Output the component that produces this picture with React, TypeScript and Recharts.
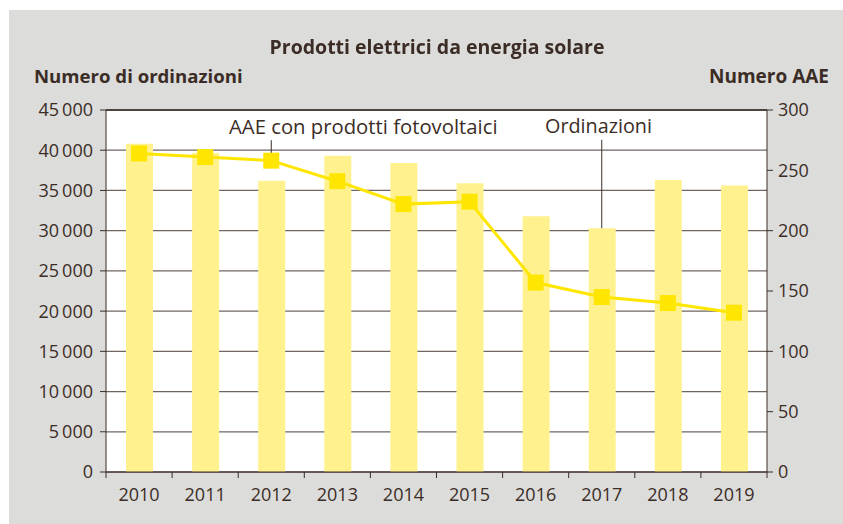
import React from "react";
import {
  Bar,
  CartesianGrid,
  ComposedChart,
  Line,
  ReferenceLine,
  XAxis,
  YAxis,
} from "recharts";

const years = ["2010", "2011", "2012", "2013", "2014", "2015", "2016", "2017", "2018", "2019"];
const ordinazioni = [40800, 39700, 36200, 39300, 38400, 35900, 31800, 30300, 36300, 35600];
const aaeFotovoltaici = [264, 261, 258, 241, 222, 224, 157, 145, 140, 132];

const leftTicks = [0, 5000, 10000, 15000, 20000, 25000, 30000, 35000, 40000, 45000];
const rightTicks = [0, 50, 100, 150, 200, 250, 300];

const data = years.map((year, i) => ({
  year,
  ordinazioni: ordinazioni[i],
  aae: aaeFotovoltaici[i],
}));

const INK = "#3b2d26";
const GRID = "#6f6660";
const FONT = "'Open Sans', sans-serif";

const W = 834;
const H = 514;
const margin = { top: 100, right: 16, bottom: 12, left: 37 };
const AXIS_W = 60;
const plotW = W - margin.left - margin.right - 2 * AXIS_W;
const step = plotW / years.length;

const fmt = (v: number) =>
  v >= 1000 ? `${Math.floor(v / 1000)}\u2009${String(v % 1000).padStart(3, "0")}` : String(v);

const XTick = (props: any) => {
  const { x, y, payload, index } = props;
  const base = y - 16;
  return (
    <g>
      <line x1={x - step / 2} x2={x - step / 2} y1={base} y2={base + 6} stroke={INK} />
      {index === years.length - 1 && (
        <line x1={x + step / 2} x2={x + step / 2} y1={base} y2={base + 6} stroke={INK} />
      )}
      <text x={x} y={y} dy="0.71em" textAnchor="middle" fill={INK} fontSize={18} fontFamily={FONT}>
        {payload.value}
      </text>
    </g>
  );
};

const SquareDot = (props: any) => {
  const { cx, cy } = props;
  if (cx == null || cy == null) return null;
  return <rect x={cx - 8} y={cy - 8} width={16} height={16} fill="#ffe600" />;
};

const label: React.CSSProperties = { position: "absolute", zIndex: 2, whiteSpace: "nowrap" };

export default function App() {
  return (
    <div
      style={{
        position: "fixed",
        left: 9,
        top: 10,
        width: W,
        height: H,
        background: "#dcdcdb",
        fontFamily: FONT,
        color: INK,
      }}
    >
      <ComposedChart width={W} height={H} data={data} margin={margin} barCategoryGap={0}>
        <CartesianGrid
          yAxisId="left"
          vertical={false}
          fill="#ffffff"
          stroke={GRID}
          strokeWidth={1.3}
          horizontalValues={leftTicks}
        />
        <XAxis
          dataKey="year"
          height={40}
          axisLine={{ stroke: INK }}
          tickLine={false}
          tickSize={6}
          tickMargin={10}
          tick={<XTick />}
          interval={0}
        />
        <YAxis
          yAxisId="left"
          orientation="left"
          width={AXIS_W}
          domain={[0, 45000]}
          ticks={leftTicks}
          tickFormatter={fmt}
          axisLine={{ stroke: INK }}
          tickLine={{ stroke: INK }}
          tickSize={6}
          tickMargin={7}
          tick={{ fill: INK, fontSize: 18, fontFamily: FONT }}
          interval={0}
        />
        <YAxis
          yAxisId="right"
          orientation="right"
          width={AXIS_W}
          domain={[0, 300]}
          ticks={rightTicks}
          axisLine={{ stroke: INK }}
          tickLine={{ stroke: INK }}
          tickSize={6}
          tickMargin={5}
          tick={{ fill: INK, fontSize: 18, fontFamily: FONT }}
          interval={0}
        />
        <ReferenceLine yAxisId="left" y={45000} stroke={INK} strokeWidth={1.3} />
        <Bar
          yAxisId="left"
          dataKey="ordinazioni"
          fill="#fff28e"
          barSize={27}
          isAnimationActive={false}
        />
        <ReferenceLine
          yAxisId="left"
          segment={[
            { x: "2017", y: 30300 },
            { x: "2017", y: 41300 },
          ]}
          stroke={INK}
        />
        <ReferenceLine
          yAxisId="right"
          segment={[
            { x: "2012", y: 258 },
            { x: "2012", y: 275 },
          ]}
          stroke={INK}
        />
        <Line
          yAxisId="right"
          dataKey="aae"
          stroke="#ffe600"
          strokeWidth={3}
          dot={<SquareDot />}
          activeDot={false}
          isAnimationActive={false}
        />
      </ComposedChart>
      <div
        style={{
          ...label,
          top: 23,
          left: 0,
          width: 856,
          textAlign: "center",
          fontWeight: 700,
          fontSize: 19.5,
        }}
      >
        Prodotti elettrici da energia solare
      </div>
      <div style={{ ...label, top: 53, left: 25, fontWeight: 700, fontSize: 18.6 }}>
        Numero di ordinazioni
      </div>
      <div style={{ ...label, top: 53, right: 14, fontWeight: 700, fontSize: 19 }}>
        Numero AAE
      </div>
      <div style={{ ...label, top: 102, left: 220, fontSize: 20.3 }}>
        AAE con prodotti fotovoltaici
      </div>
      <div style={{ ...label, top: 102, left: 536, fontSize: 19.8 }}>Ordinazioni</div>
    </div>
  );
}
